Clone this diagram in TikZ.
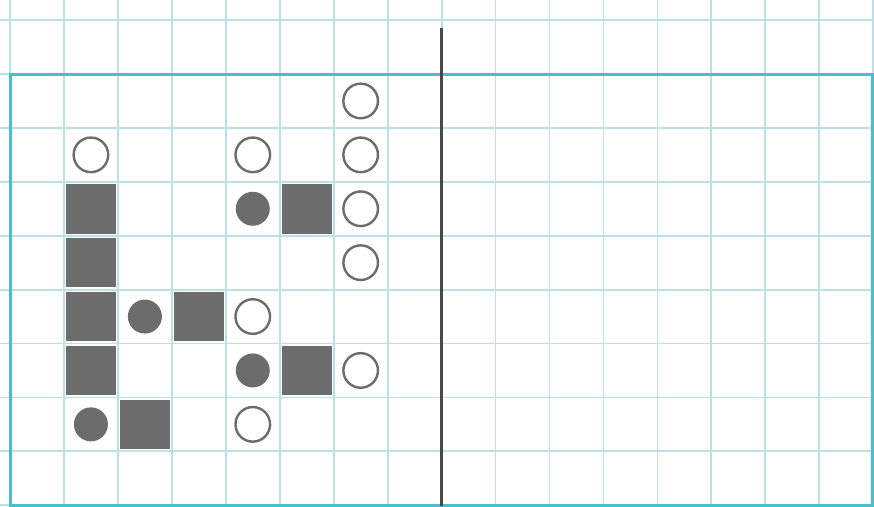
\documentclass[tikz,border=0pt]{standalone}
\definecolor{gridc}{RGB}{188,224,230}
\definecolor{framec}{RGB}{72,192,204}
\definecolor{shapec}{RGB}{108,108,108}
\definecolor{darkline}{RGB}{72,72,72}
\tikzset{
  gridline/.style={gridc,line width=1.8pt},
  frameline/.style={framec,line width=3pt},
  sq/.style={fill=shapec},
  opendot/.style={draw=shapec,line width=2.4pt,fill=white},
  fulldot/.style={fill=shapec}
}
\begin{document}
\begin{tikzpicture}[x=1pt,y=-1pt]
\useasboundingbox (0,0) rectangle (874,506);
\fill[white] (0,0) rectangle (874,506);
\foreach \k in {0,...,16} \draw[gridline] ({10+53.95*\k},0) -- ({10+53.95*\k},506);
\foreach \k in {-1,...,8} \draw[gridline] (0,{74+53.9*\k}) -- (874,{74+53.9*\k});
\draw[frameline] (10,505) -- (10,74) -- (872.5,74) -- (872.5,505) -- cycle;
\draw[darkline,line width=3pt] (441,28) -- (441,506);
% squares
\foreach \c/\r in {1/2,1/3,1/4,1/5,3/4,5/2,5/5,2/6}
  \fill[sq] ({10+53.95*(\c+0.5)-24.8},{74+53.9*(\r+0.5)-24.8}) rectangle ({10+53.95*(\c+0.5)+24.8},{74+53.9*(\r+0.5)+24.8});
% open circles
\foreach \c/\r in {6/0,1/1,4/1,6/1,6/2,6/3,4/4,6/5,4/6}
  \draw[opendot] ({10+53.95*(\c+0.5)},{74+53.9*(\r+0.5)}) circle (17.3);
% filled circles
\foreach \c/\r in {4/2,2/4,4/5,1/6}
  \fill[fulldot] ({10+53.95*(\c+0.5)},{74+53.9*(\r+0.5)}) circle (17);
\end{tikzpicture}
\end{document}
